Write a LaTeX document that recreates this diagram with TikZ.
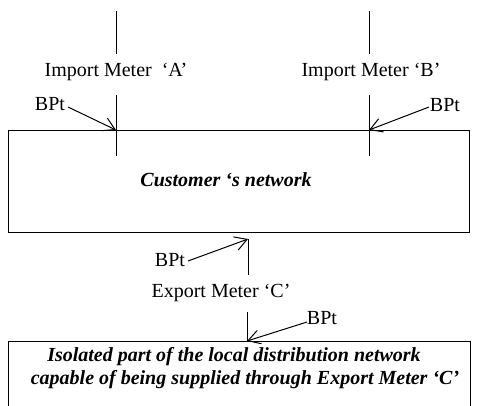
\documentclass[tikz,border=0pt]{standalone}
\usepackage{fontspec}
\setmainfont{Liberation Serif}
\usetikzlibrary{arrows.meta}
\begin{document}
\begin{tikzpicture}[x=1pt,y=-1pt, line width=1pt,
  lbl/.style={font=\fontsize{20}{24}\selectfont, inner sep=0pt},
  btxt/.style={font=\fontsize{20}{24}\selectfont\bfseries\itshape, inner sep=0pt},
  bpt/.style={-{Straight Barb[length=12pt,width=14pt]}, line width=1pt}]
\useasboundingbox (0,0) rectangle (478,405);
% boxes
\draw (8,130) rectangle (469,232);
\draw (8,420) -- (8,341) -- (470,341) -- (470,420);
\node[btxt] (cust) at (226,180) {Customer ‘s network};
\node[btxt] (iso1) at (234,357) {Isolated part of the local distribution network};
\node[btxt] (iso2) at (245,380) {capable of being supplied through Export Meter ‘C’};
% meter A
\coordinate (a1) at (116,11); \coordinate (a2) at (116,54);
\coordinate (a3) at (116,95); \coordinate (a4) at (116,156);
\coordinate (aT) at (116,130);
\draw (a1) -- (a2); \draw (a3) -- (a4);
\node[lbl] (ma) at (116,72) {Import Meter\ \ ‘A’};
\node[lbl] (bpa) at (50,104) {BPt};
\coordinate (bpaS) at (68,107);
\draw[bpt] (bpaS) -- (aT);
% meter B
\coordinate (b1) at (369,11); \coordinate (b2) at (369,54);
\coordinate (b3) at (369,95); \coordinate (b4) at (369,156);
\coordinate (bT) at (369,130);
\draw (b1) -- (b2); \draw (b3) -- (b4);
\node[lbl] (mb) at (371,72) {Import Meter ‘B’};
\node[lbl] (bpb) at (445,105) {BPt};
\coordinate (bpbS) at (429,107);
\draw[bpt] (bpbS) -- (bT);
% export meter C
\coordinate (c1) at (248,239); \coordinate (c2) at (248,275);
\draw (c1) -- (c2);
\node[lbl] (bpc) at (170,260) {BPt};
\coordinate (bpcS) at (188,261);
\draw[bpt] (bpcS) -- (c1);
\node[lbl] (mc) at (221,293) {Export Meter ‘C’};
\coordinate (d1) at (247,312); \coordinate (d2) at (247,341);
\draw (d1) -- (d2);
\node[lbl] (bpd) at (322,318) {BPt};
\coordinate (bpdS) at (307,322);
\draw[bpt] (bpdS) -- (d2);
\end{tikzpicture}
\end{document}
